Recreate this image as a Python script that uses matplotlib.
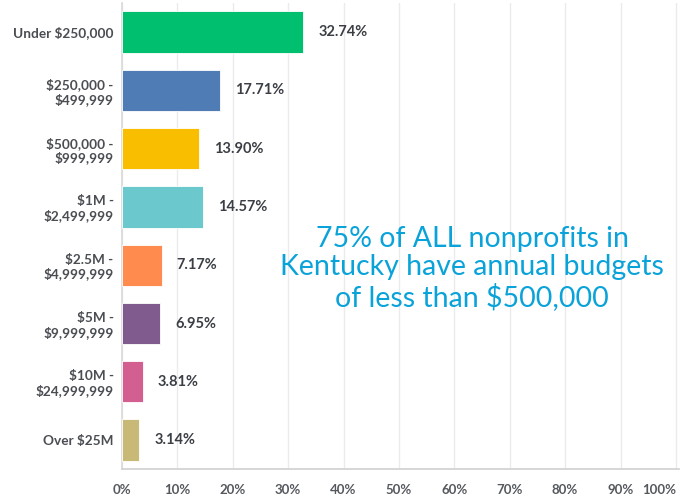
import matplotlib.pyplot as plt
import numpy as np

## Data
categories = ["Under $250,000", "$250,000 -\n$499,999", "$500,000 -\n$999,999",
              "$1M -\n$2,499,999", "$2.5M -\n$4,999,999", "$5M -\n$9,999,999",
              "$10M -\n$24,999,999", "Over $25M"]
percents = [32.74, 17.71, 13.90, 14.57, 7.17, 6.95, 3.81, 3.14]
colors = ["#00BF6F", "#507CB6", "#F9BE00", "#6BC8CD", "#FF8B4F", "#7F5C8D",
          "#D25F90", "#C9B977"]
ticks = [0, 10, 20, 30, 40, 50, 60, 70, 80, 90, 100]
note = "75% of ALL nonprofits in\nKentucky have annual budgets\nof less than $500,000"

plt.rcParams["font.family"] = ["Lato", "DejaVu Sans"]

fig = plt.figure(figsize=(6.89, 4.96), dpi=100)
ax = fig.add_axes([0.177, 0.054, 0.808, 0.94])

y = np.arange(len(categories))
ax.barh(y, percents, height=0.71, color=colors, edgecolor="white", linewidth=0.6, zorder=3)

for yi, p in zip(y, percents):
	ax.text(p + 2.7, yi, "%.2f%%" % p, va="center", ha="left", fontsize=10.5,
			fontweight="bold", color="#3b3f45")

ax.set_ylim(len(categories) - 0.5, -0.5)
ax.set_xlim(0, 100.5)
ax.set_yticks(y)
ax.set_yticklabels(categories, fontsize=9.8, fontweight="bold", color="#4a4d52", linespacing=1.15)
ax.set_xticks(ticks)
ax.set_xticklabels(["%d%%" % t for t in ticks], fontsize=9.5, fontweight="bold", color="#55595e")
ax.get_xticklabels()[-1].set_horizontalalignment("right")
ax.tick_params(axis="both", length=0)
ax.tick_params(axis="x", pad=11)
ax.tick_params(axis="y", pad=6)

ax.grid(axis="x", color="#ebebeb", linewidth=1, zorder=0)
for s in ["top", "right"]:
	ax.spines[s].set_visible(False)
ax.spines["left"].set_color("#d9d9d9")
ax.spines["bottom"].set_color("#d0d0d0")
ax.spines["left"].set_linewidth(1.2)
ax.spines["bottom"].set_linewidth(1.2)

ax.text(63.2, 4.05, note, ha="center", va="center", fontsize=20.5, color="#0AA3D9",
		linespacing=1.12)

fig.savefig("out.png", dpi=100)
